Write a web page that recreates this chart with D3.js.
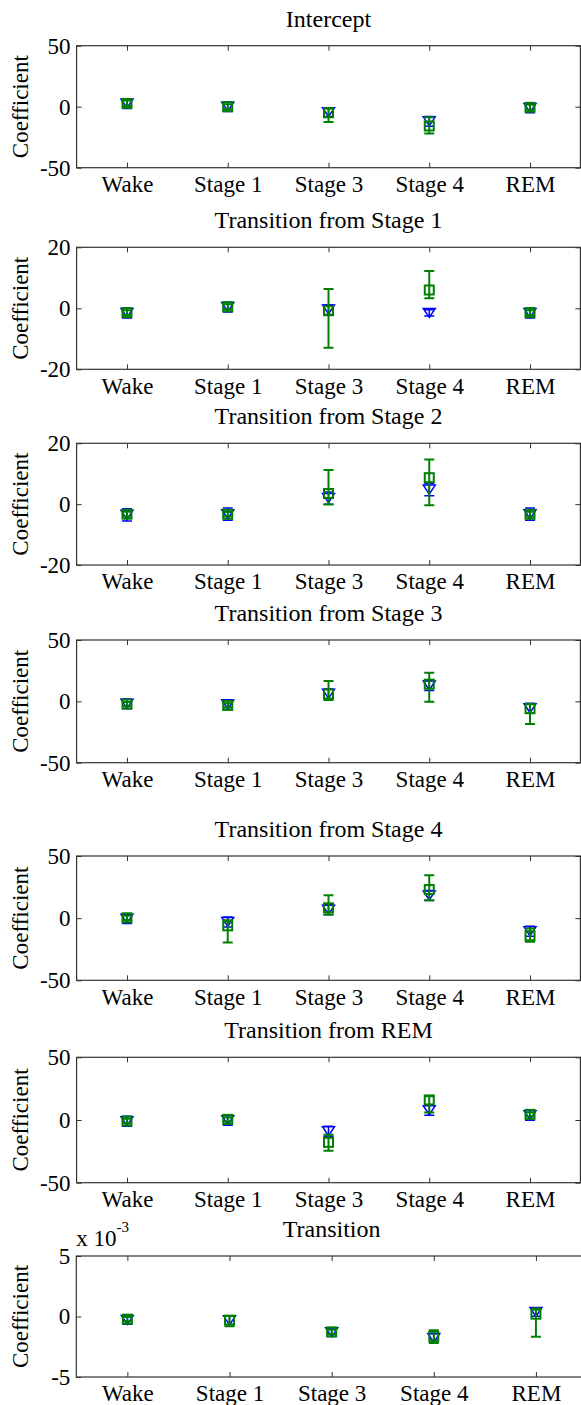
<!DOCTYPE html>
<html>
<head>
<meta charset="utf-8">
<script src="https://cdn.jsdelivr.net/npm/d3@7"></script>
<style>
  html, body { margin: 0; padding: 0; background: #fff; }
  svg text { font-family: "Liberation Serif", "DejaVu Serif", "Noto Serif", "Times New Roman", serif; fill: #000; }
</style>
</head>
<body>
<div id="chart"></div>
<script>
// categories on the x axis (same for every panel)
const categories = ["Wake", "Stage 1", "Stage 3", "Stage 4", "REM"];

const panelTitles = [
  "Intercept",
  "Transition from Stage 1",
  "Transition from Stage 2",
  "Transition from Stage 3",
  "Transition from Stage 4",
  "Transition from REM",
  "Transition"
];

const yDomains = [[-50, 50], [-20, 20], [-20, 20], [-50, 50], [-50, 50], [-50, 50], [-5, 5]];
const yTicks = [[-50, 0, 50], [-20, 0, 20], [-20, 0, 20], [-50, 0, 50], [-50, 0, 50], [-50, 0, 50], [-5, 0, 5]];
// last panel is shown in units of 10^-3
const yExponent = [0, 0, 0, 0, 0, 0, -3];

// blue triangles (estimate + small error bar)
const triValues = [
  [2.6, 0, -4.5, -12, -1],
  [-1.5, 0.4, -0.4, -1.5, -1.5],
  [-3.5, -3.3, 2, 4.8, -3.3],
  [-2, -2.6, 6.1, 12.9, -5.6],
  [-0.4, -3.1, 6.8, 18.3, -10.6],
  [-1, -0.2, -8.9, 7.8, 3.8],
  [-0.29, -0.32, -1.31, -1.78, 0.37]
];
const triLow = [
  [-1.5, -4, -8, -16, -5],
  [-3.2, -1.2, -2, -2.5, -3.2],
  [-5.5, -5.3, 0, 2.8, -5.3],
  [-6, -6.6, 2.1, 8.9, -9.6],
  [-4.4, -7.1, 2.8, 14.3, -14.6],
  [-5, -4.2, -12.9, 3.8, -0.2],
  [-0.64, -0.67, -1.66, -2.13, 0.02]
];
const triHigh = [
  [6.5, 4, -1, -8, 3],
  [0.2, 2, 1.2, -0.5, 0.2],
  [-1.5, -1.3, 4, 6.8, -1.3],
  [2, 1.4, 10.1, 16.9, -1.6],
  [3.6, 0.9, 10.8, 22.3, -6.6],
  [3, 3.8, -4.9, 11.8, 7.8],
  [0.06, 0.03, -0.96, -1.43, 0.72]
];

// green squares (estimate + error bar)
const sqValues = [
  [2.7, 0, -5, -15.8, -0.5],
  [-1.4, 0.5, -0.8, 6, -1.4],
  [-3.3, -3.3, 3.5, 8.7, -3.3],
  [-2.2, -3.3, 6, 14, -6],
  [0.3, -6.2, 8.3, 23, -14.2],
  [-0.8, 0.5, -17.8, 16, 4.5],
  [-0.22, -0.3, -1.27, -1.63, 0.19]
];
const sqLow = [
  [0.5, -2, -12.5, -22, -2.5],
  [-2.2, -0.3, -12.9, 3.3, -2.2],
  [-4.1, -4, -0.1, -0.4, -4.1],
  [-4, -5, 1.1, -0.3, -18.5],
  [-1.5, -19.6, 2.9, 14.5, -19],
  [-2.5, -1.2, -24.5, 6, 3],
  [-0.4, -0.8, -1.45, -2.18, -1.68]
];
const sqHigh = [
  [5, 2, -1.4, -8.7, 1.5],
  [-0.6, 1.3, 6.3, 12.2, -0.6],
  [-2.5, -2.6, 11.2, 14.7, -2.5],
  [-0.5, -1.5, 16.6, 23.4, -2.2],
  [2, -1.6, 18.5, 34.6, -8.3],
  [1, 2, -11.7, 19, 6],
  [-0.05, 0.05, -1.1, -1.13, 0.66]
];

// panel boxes in page pixels
const layout = [
  { top: 45.7, bottom: 167.7, left: 76.6, right: 580.4 },
  { top: 247.3, bottom: 369.3, left: 76.6, right: 580.4 },
  { top: 443.3, bottom: 565, left: 76.6, right: 580.4 },
  { top: 640, bottom: 762.7, left: 76.6, right: 580.4 },
  { top: 856, bottom: 980.3, left: 76.6, right: 580.4 },
  { top: 1057.3, bottom: 1182.7, left: 76.6, right: 580.4 },
  { top: 1256, bottom: 1377, left: 76.3, right: 587 }
];

const W = 581, H = 1405;
const green = "#008000", blue = "#0000ff";
const capW = 5;
const fontStack = "'Liberation Serif', 'DejaVu Serif', 'Noto Serif', 'Times New Roman', serif";

const svg = d3.select("#chart").append("svg")
  .attr("width", W)
  .attr("height", H)
  .attr("font-family", fontStack);

panelTitles.forEach((title, p) => {
  const box = layout[p];
  const x = d3.scaleLinear().domain([0.5, categories.length + 0.5]).range([box.left, box.right]);
  const y = d3.scaleLinear().domain(yDomains[p]).range([box.bottom, box.top]);
  const g = svg.append("g");

  // title
  g.append("text")
    .attr("x", (box.left + box.right) / 2)
    .attr("y", box.top - 19)
    .attr("text-anchor", "middle")
    .attr("font-size", 24)
    .text(title);

  // y label
  g.append("text")
    .attr("transform", `translate(28,${(box.top + box.bottom) / 2}) rotate(-90)`)
    .attr("text-anchor", "middle")
    .attr("font-size", 23)
    .text("Coefficient");

  const catIdx = categories.map((c, i) => i + 1);

  const xb = g.append("g")
    .attr("transform", `translate(0,${box.bottom})`)
    .call(d3.axisBottom(x).tickValues(catIdx).tickSize(-5).tickPadding(8)
      .tickFormat(d => categories[d - 1]));
  const xt = g.append("g")
    .attr("transform", `translate(0,${box.top})`)
    .call(d3.axisTop(x).tickValues(catIdx).tickSize(-5).tickFormat(""));
  const yl = g.append("g")
    .attr("transform", `translate(${box.left},0)`)
    .call(d3.axisLeft(y).tickValues(yTicks[p]).tickSize(-5).tickPadding(6)
      .tickFormat(d => d < 0 ? "-" + Math.abs(d) : d));
  const yr = g.append("g")
    .attr("transform", `translate(${box.right},0)`)
    .call(d3.axisRight(y).tickValues(yTicks[p]).tickSize(-5).tickFormat(""));

  [xb, xt, yl, yr].forEach(a => {
    a.attr("font-family", fontStack).attr("font-size", 23);
    a.select(".domain").remove();
    a.selectAll(".tick line").attr("stroke", "#333").attr("stroke-width", 1);
    a.selectAll(".tick text").attr("fill", "#000");
  });

  g.append("rect")
    .attr("x", box.left)
    .attr("y", box.top)
    .attr("width", box.right - box.left)
    .attr("height", box.bottom - box.top)
    .attr("fill", "none")
    .attr("stroke", "#333")
    .attr("stroke-width", 1.2);

  if (yExponent[p] !== 0) {
    const t = g.append("text")
      .attr("x", box.left)
      .attr("y", box.top - 10)
      .attr("font-size", 23);
    t.append("tspan").text("x 10");
    t.append("tspan").attr("dy", -14).attr("font-size", 15).text(yExponent[p]);
  }

  const plot = g.append("g");

  const blueData = categories.map((c, i) => ({ i: i + 1, v: triValues[p][i], lo: triLow[p][i], hi: triHigh[p][i] }));
  const greenData = categories.map((c, i) => ({ i: i + 1, v: sqValues[p][i], lo: sqLow[p][i], hi: sqHigh[p][i] }));

  function errorBars(data, color, width) {
    const eb = plot.append("g").attr("stroke", color).attr("stroke-width", width).attr("fill", "none");
    eb.selectAll("path.bar")
      .data(data)
      .join("path")
      .attr("class", "bar")
      .attr("d", d => {
        const cx = x(d.i), y0 = y(d.lo), y1 = y(d.hi);
        return `M${cx},${y0}V${y1}M${cx - capW},${y0}H${cx + capW}M${cx - capW},${y1}H${cx + capW}`;
      });
    return eb;
  }

  // blue series first, green drawn on top
  errorBars(blueData, blue, 1.5);
  plot.append("g")
    .selectAll("path")
    .data(blueData)
    .join("path")
    .attr("d", d => {
      const cx = x(d.i), cy = y(d.v);
      return `M${cx - 6},${cy - 4.5}L${cx + 6},${cy - 4.5}L${cx},${cy + 4.5}Z`;
    })
    .attr("fill", "none")
    .attr("stroke", blue)
    .attr("stroke-width", 1.5);

  errorBars(greenData, green, 2);
  plot.append("g")
    .selectAll("rect")
    .data(greenData)
    .join("rect")
    .attr("x", d => x(d.i) - 4.5)
    .attr("y", d => y(d.v) - 4.5)
    .attr("width", 9)
    .attr("height", 9)
    .attr("fill", "none")
    .attr("stroke", green)
    .attr("stroke-width", 2);
});
</script>
</body>
</html>
